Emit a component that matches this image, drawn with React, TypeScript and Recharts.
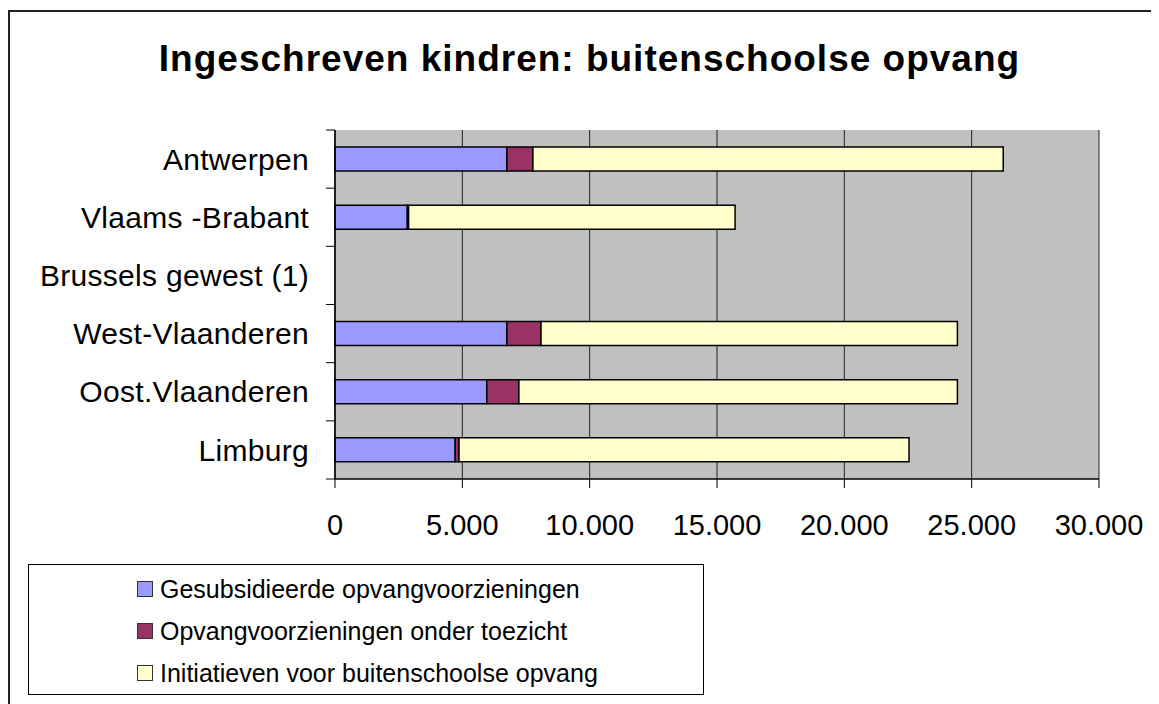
import { BarChart, Bar, XAxis, YAxis, CartesianGrid, Legend } from "recharts"

const regions = [
    "Antwerpen",
    "Vlaams -Brabant",
    "Brussels gewest (1)",
    "West-Vlaanderen",
    "Oost.Vlaanderen",
    "Limburg",
]
const gesubsidieerd = [6750, 2840, 0, 6750, 5960, 4720]
const onderToezicht = [1020, 50, 0, 1340, 1260, 150]
const initiatieven = [18470, 12820, 0, 16350, 17220, 17670]
const xTicks = [0, 5000, 10000, 15000, 20000, 25000, 30000]
const seriesNames = [
    "Gesubsidieerde opvangvoorzieningen",
    "Opvangvoorzieningen onder toezicht",
    "Initiatieven voor buitenschoolse opvang",
]

const data = regions.map((region, i) => ({
    region,
    gesubsidieerd: gesubsidieerd[i],
    toezicht: onderToezicht[i],
    initiatieven: initiatieven[i],
}))

const FONT = '"Liberation Sans", Arial, sans-serif'
const Y_TICK_SIZE = 9
const Y_TICK_MARGIN = 17

// 5000 -> "5.000"
const fmt = (v: number) => String(v).replace(/\B(?=(\d{3})+(?!\d))/g, ".")

function RegionTick(props: any) {
    const { x, y, payload, index } = props
    const half = payload?.offset ?? 29
    const ax = x + Y_TICK_MARGIN + Y_TICK_SIZE
    return (
        <g>
            <text
                x={x}
                y={y}
                dy="0.355em"
                textAnchor="end"
                fontSize={30}
                fontFamily={FONT}
                letterSpacing={0.3}
                fill="#000"
            >
                {payload.value}
            </text>
            <line x1={ax - Y_TICK_SIZE} x2={ax} y1={y + half} y2={y + half} stroke="#000" />
            {index === 0 && (
                <line x1={ax - Y_TICK_SIZE} x2={ax} y1={y - half} y2={y - half} stroke="#000" />
            )}
        </g>
    )
}

function LegendBox({ payload }: any) {
    // keep series order, recharts sorts legend items by name
    const items = [...(payload || [])].sort(
        (a: any, b: any) => seriesNames.indexOf(a.value) - seriesNames.indexOf(b.value)
    )
    return (
        <div
            style={{
                boxSizing: "border-box",
                width: "100%",
                height: "100%",
                border: "1px solid #000",
                background: "#fff",
                paddingTop: 3,
                paddingLeft: 108,
                fontFamily: FONT,
                fontSize: 25,
                color: "#000",
            }}
        >
            {items.map((p: any) => (
                <div key={p.value} style={{ height: 42, display: "flex", alignItems: "center" }}>
                    <span
                        style={{
                            display: "inline-block",
                            width: 14,
                            height: 14,
                            background: p.color,
                            border: "1px solid #333",
                            marginRight: 7,
                        }}
                    />
                    <span>{p.value}</span>
                </div>
            ))}
        </div>
    )
}

export default function App() {
    return (
        <div style={{ position: "relative", width: 1151, height: 696, overflow: "visible" }}>
            <div
                style={{
                    position: "absolute",
                    left: 0,
                    top: 2,
                    width: 1200,
                    height: 760,
                    borderLeft: "2px solid #222",
                    borderTop: "2px solid #222",
                }}
            />
            <div
                style={{
                    position: "absolute",
                    left: 0,
                    top: 32,
                    width: 1163,
                    textAlign: "center",
                    fontFamily: FONT,
                    fontWeight: "bold",
                    fontSize: 37,
                    lineHeight: "37px",
                    letterSpacing: 1,
                    color: "#000",
                }}
            >
                Ingeschreven kindren: buitenschoolse opvang
            </div>
            <BarChart
                width={1151}
                height={696}
                data={data}
                layout="vertical"
                margin={{ top: 122, right: 60, bottom: 165, left: 0 }}
                style={{ position: "absolute", left: 0, top: 0 }}
            >
                <CartesianGrid horizontal={false} stroke="#222" fill="#c0c0c0" />
                <XAxis
                    type="number"
                    domain={[0, 30000]}
                    ticks={xTicks}
                    interval={0}
                    tickFormatter={fmt}
                    height={60}
                    tickSize={9}
                    tickMargin={26}
                    axisLine={{ stroke: "#000", strokeWidth: 1.5 }}
                    tickLine={{ stroke: "#000" }}
                    tick={{ fontSize: 29, fill: "#000", fontFamily: FONT }}
                />
                <YAxis
                    type="category"
                    dataKey="region"
                    width={327}
                    interval={0}
                    tickSize={Y_TICK_SIZE}
                    tickMargin={Y_TICK_MARGIN}
                    tickLine={false}
                    axisLine={{ stroke: "#000", strokeWidth: 1.5 }}
                    tick={<RegionTick />}
                />
                <Legend
                    layout="vertical"
                    align="center"
                    verticalAlign="middle"
                    content={<LegendBox />}
                    wrapperStyle={{ left: 20, top: 556, width: 676, height: 131 }}
                />
                <Bar
                    dataKey="gesubsidieerd"
                    name={seriesNames[0]}
                    stackId="a"
                    fill="#9999ff"
                    stroke="#000"
                    strokeWidth={1.5}
                    barSize={24}
                    isAnimationActive={false}
                />
                <Bar
                    dataKey="toezicht"
                    name={seriesNames[1]}
                    stackId="a"
                    fill="#993366"
                    stroke="#000"
                    strokeWidth={1.5}
                    barSize={24}
                    isAnimationActive={false}
                />
                <Bar
                    dataKey="initiatieven"
                    name={seriesNames[2]}
                    stackId="a"
                    fill="#ffffcc"
                    stroke="#000"
                    strokeWidth={1.5}
                    barSize={24}
                    isAnimationActive={false}
                />
            </BarChart>
        </div>
    )
}
